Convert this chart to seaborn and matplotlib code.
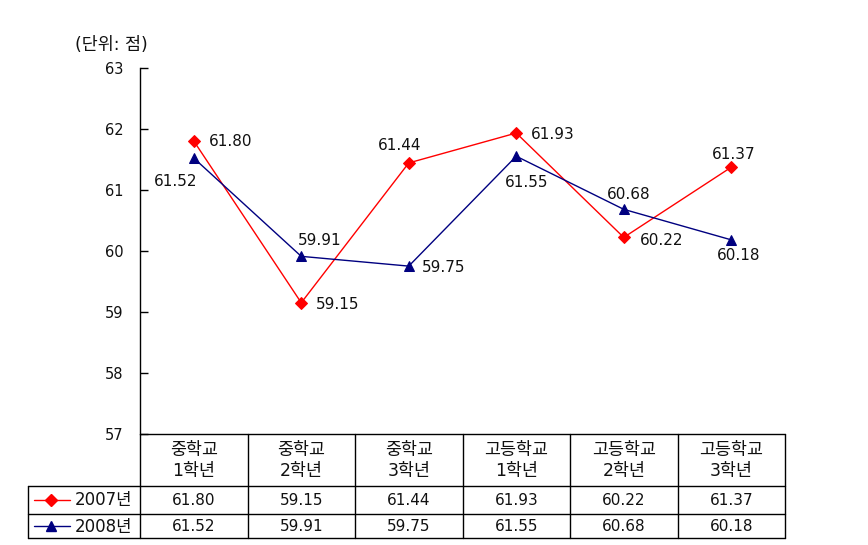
import matplotlib
matplotlib.use("Agg")
import matplotlib.pyplot as plt
import seaborn as sns
import pandas as pd

categories = ["중학교\n1학년", "중학교\n2학년", "중학교\n3학년", "고등학교\n1학년", "고등학교\n2학년", "고등학교\n3학년"]
series_names = ["2007년", "2008년"]
values_2007 = [61.80, 59.15, 61.44, 61.93, 60.22, 61.37]
values_2008 = [61.52, 59.91, 59.75, 61.55, 60.68, 60.18]
y_ticks = [57, 58, 59, 60, 61, 62, 63]
unit_label = "(단위: 점)"

# label offsets in pixels (style only)
off_2007 = [(37, -1), (36, -2), (-9, 17), (36, -1), (38, -3), (2, 13)]
off_2008 = [(-18, -23), (18, 16), (35, -1), (10, -26), (5, 15), (7, -16)]

sns.set_style("white")
plt.rcParams['font.family'] = ['DejaVu Sans', 'Noto Sans CJK KR']

TXT = "#111111"
W, H = 868, 545
fig = plt.figure(figsize=(W / 100, H / 100), dpi=100)

ax_l, ax_r, ax_t, ax_b = 140, 785, 67.7, 434
ax = fig.add_axes([ax_l / W, 1 - ax_b / H, (ax_r - ax_l) / W, (ax_b - ax_t) / H])

df = pd.DataFrame({
    "x": list(range(len(categories))) * 2,
    "value": values_2007 + values_2008,
    "series": [series_names[0]] * len(categories) + [series_names[1]] * len(categories),
})
colors = {"2007년": "#FF0000", "2008년": "#000080"}
markers = {"2007년": "D", "2008년": "^"}
sizes = {"2007년": 6, "2008년": 7}
for s in series_names:
    sub = df[df["series"] == s]
    sns.lineplot(data=sub, x="x", y="value", ax=ax, color=colors[s], marker=markers[s],
                 markersize=sizes[s], markeredgecolor=colors[s], linewidth=1.0, legend=False)

for vals, offs in ((values_2007, off_2007), (values_2008, off_2008)):
    for i, (v, o) in enumerate(zip(vals, offs)):
        ax.annotate(f"{v:.2f}", (i, v), xytext=o, textcoords="offset pixels",
                    ha="center", va="center", fontsize=11, color=TXT)

ax.set_xlim(-0.5, len(categories) - 0.5)
ax.set_ylim(min(y_ticks), max(y_ticks))
ax.set_yticks(y_ticks)
ax.set_yticklabels([str(t) for t in y_ticks])
ax.set_xticks([])
ax.set_xlabel("")
ax.set_ylabel("")
for sp in ("top", "right", "bottom"):
    ax.spines[sp].set_visible(False)
ax.spines["left"].set_color("black")
ax.spines["left"].set_linewidth(1.0)
ax.tick_params(axis="y", direction="in", length=6, width=1, color="black",
               labelsize=10.5, pad=12, left=True, labelcolor=TXT)
ax.patch.set_alpha(0)

# table overlay in pixel coordinates
tab = fig.add_axes([0, 0, 1, 1], zorder=-1)
tab.set_xlim(0, W)
tab.set_ylim(H, 0)
tab.axis("off")

lw = 1.0
row_top, row_mid1, row_mid2, row_bot = 434, 485.5, 513.5, 538
leg_left = 28
ncol = len(categories)
colw = (ax_r - ax_l) / ncol

tab.plot([ax_l, ax_r], [row_top, row_top], color="black", lw=lw)
for y in (row_mid1, row_mid2, row_bot):
    tab.plot([leg_left, ax_r], [y, y], color="black", lw=lw)
tab.plot([leg_left, leg_left], [row_mid1, row_bot], color="black", lw=lw)
for j in range(ncol + 1):
    x = ax_l + j * colw
    tab.plot([x, x], [row_top, row_bot], color="black", lw=lw)

for j, c in enumerate(categories):
    xc = ax_l + (j + 0.5) * colw
    tab.text(xc, (row_top + row_mid1) / 2 + 0.5, c, ha="center", va="center",
             fontsize=12.5, linespacing=1.2, color=TXT)
    tab.text(xc, (row_mid1 + row_mid2) / 2 + 1, f"{values_2007[j]:.2f}", ha="center", va="center",
             fontsize=11, color=TXT)
    tab.text(xc, (row_mid2 + row_bot) / 2 + 1, f"{values_2008[j]:.2f}", ha="center", va="center",
             fontsize=11, color=TXT)

for name, yc in ((series_names[0], (row_mid1 + row_mid2) / 2), (series_names[1], (row_mid2 + row_bot) / 2)):
    tab.plot([34, 70], [yc, yc], color=colors[name], lw=1.0)
    tab.plot([51], [yc], marker=markers[name], color=colors[name], markersize=sizes[name], linestyle="none")
    tab.text(75, yc + 1, name, ha="left", va="center", fontsize=12, color=TXT)

fig.text(75 / W, 1 - 45 / H, unit_label, ha="left", va="center", fontsize=12.5, color=TXT)

fig.savefig("out.png", dpi=100)
